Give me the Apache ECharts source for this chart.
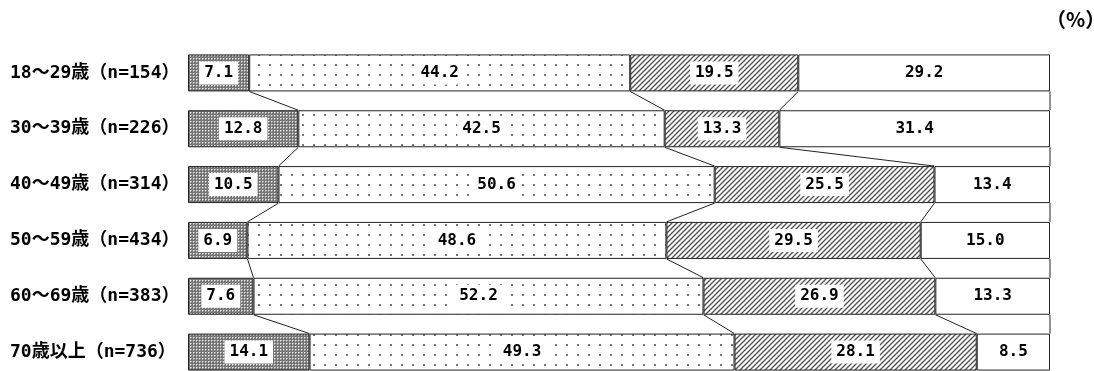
<!DOCTYPE html>
<html><head><meta charset="utf-8">
<script src="https://cdn.jsdelivr.net/npm/echarts@6/dist/echarts.min.js"></script>
<style>html,body{margin:0;padding:0;background:#fff}#c{width:1094px;height:371px}</style>
</head><body><div id="c"></div>
<script>
var categories = ['18〜29歳（n=154）','30〜39歳（n=226）','40〜49歳（n=314）','50〜59歳（n=434）','60〜69歳（n=383）','70歳以上（n=736）'];
var seriesA = [7.1, 12.8, 10.5, 6.9, 7.6, 14.1];
var seriesB = [44.2, 42.5, 50.6, 48.6, 52.2, 49.3];
var seriesC = [19.5, 13.3, 25.5, 29.5, 26.9, 28.1];
var seriesD = [29.2, 31.4, 13.4, 15.0, 13.3, 8.5];
var unitLabel = '（%）';

var BAR_H = 37;
var FONT = '"DejaVu Sans Mono","Noto Sans CJK JP",monospace';

function makeTile(w, h, draw) {
  var c = document.createElement('canvas'); c.width = w; c.height = h;
  var ctx = c.getContext('2d'); draw(ctx, w, h); return c;
}
var darkTile = makeTile(3, 3, function (ctx) {
  ctx.fillStyle = '#767676'; ctx.fillRect(0, 0, 3, 3);
  ctx.fillStyle = '#e8e8e8'; ctx.fillRect(1, 1, 1, 1);
  ctx.fillStyle = '#b0b0b0'; ctx.fillRect(2, 1, 1, 1); ctx.fillRect(1, 2, 1, 1);
});
var dotTile = makeTile(11, 10, function (ctx) {
  ctx.fillStyle = '#fff'; ctx.fillRect(0, 0, 11, 10);
  ctx.fillStyle = '#777'; ctx.fillRect(5, 4, 2, 2);
});
var hatchTile = makeTile(5, 5, function (ctx) {
  ctx.fillStyle = '#fff'; ctx.fillRect(0, 0, 5, 5);
  ctx.strokeStyle = '#555'; ctx.lineWidth = 1.4;
  ctx.beginPath();
  ctx.moveTo(-1, 6); ctx.lineTo(6, -1);
  ctx.moveTo(-4, 4); ctx.lineTo(4, -4);
  ctx.moveTo(1, 9); ctx.lineTo(9, 1);
  ctx.stroke();
});

var lists = [seriesA, seriesB, seriesC, seriesD];
var fills = [
  { image: darkTile, repeat: 'repeat' },
  { image: dotTile, repeat: 'repeat' },
  { image: hatchTile, repeat: 'repeat' },
  '#ffffff'
];

var barSeries = lists.map(function (arr, k) {
  return {
    type: 'bar', stack: 'all', data: arr, barWidth: BAR_H, z: 2,
    itemStyle: { color: fills[k], borderColor: '#222', borderWidth: 1 },
    label: {
      show: true, position: 'inside',
      formatter: function (p) { return p.value.toFixed(1); },
      fontFamily: FONT, fontWeight: 'bold', fontSize: 16, color: '#000',
      backgroundColor: '#fff', padding: [4, 5, 3, 5]
    },
    emphasis: { disabled: true }
  };
});

// connector lines between consecutive bars at cumulative boundaries
var connData = [];
for (var i = 0; i < categories.length - 1; i++) {
  var c1 = 0, c2 = 0;
  for (var k = 0; k < lists.length; k++) {
    c1 += lists[k][i]; c2 += lists[k][i + 1];
    connData.push([c1, c2, i]);
  }
}
var connSeries = {
  type: 'custom', data: connData, z: 1, silent: true,
  encode: { x: [0, 1], y: 2 },
  renderItem: function (params, api) {
    var i = api.value(2);
    var p1 = api.coord([api.value(0), i]);
    var p2 = api.coord([api.value(1), i + 1]);
    return {
      type: 'line',
      shape: { x1: p1[0], y1: p1[1] + BAR_H / 2, x2: p2[0], y2: p2[1] - BAR_H / 2 },
      style: { stroke: '#222', lineWidth: 1 }
    };
  }
};

var chart = echarts.init(document.getElementById('c'), null, { renderer: 'canvas' });
chart.setOption({
  animation: false,
  backgroundColor: '#fff',
  grid: { left: 188, right: 44, top: 45, height: 335, containLabel: false, outerBoundsMode: 'none' },
  xAxis: { type: 'value', min: 0, max: 100, show: false },
  yAxis: {
    type: 'category', data: categories, inverse: true,
    axisLine: { show: false }, axisTick: { show: false },
    axisLabel: { margin: 178, align: 'left', fontFamily: FONT, fontWeight: 'bold', fontSize: 18, color: '#000' }
  },
  graphic: [{
    type: 'text', left: 1046, top: 9, z: 10,
    style: { text: unitLabel, fontFamily: '"Noto Sans CJK JP", sans-serif', fontWeight: 'bold', fontSize: 20, fill: '#000' }
  }],
  series: barSeries.concat([connSeries])
});
</script>
</body></html>
